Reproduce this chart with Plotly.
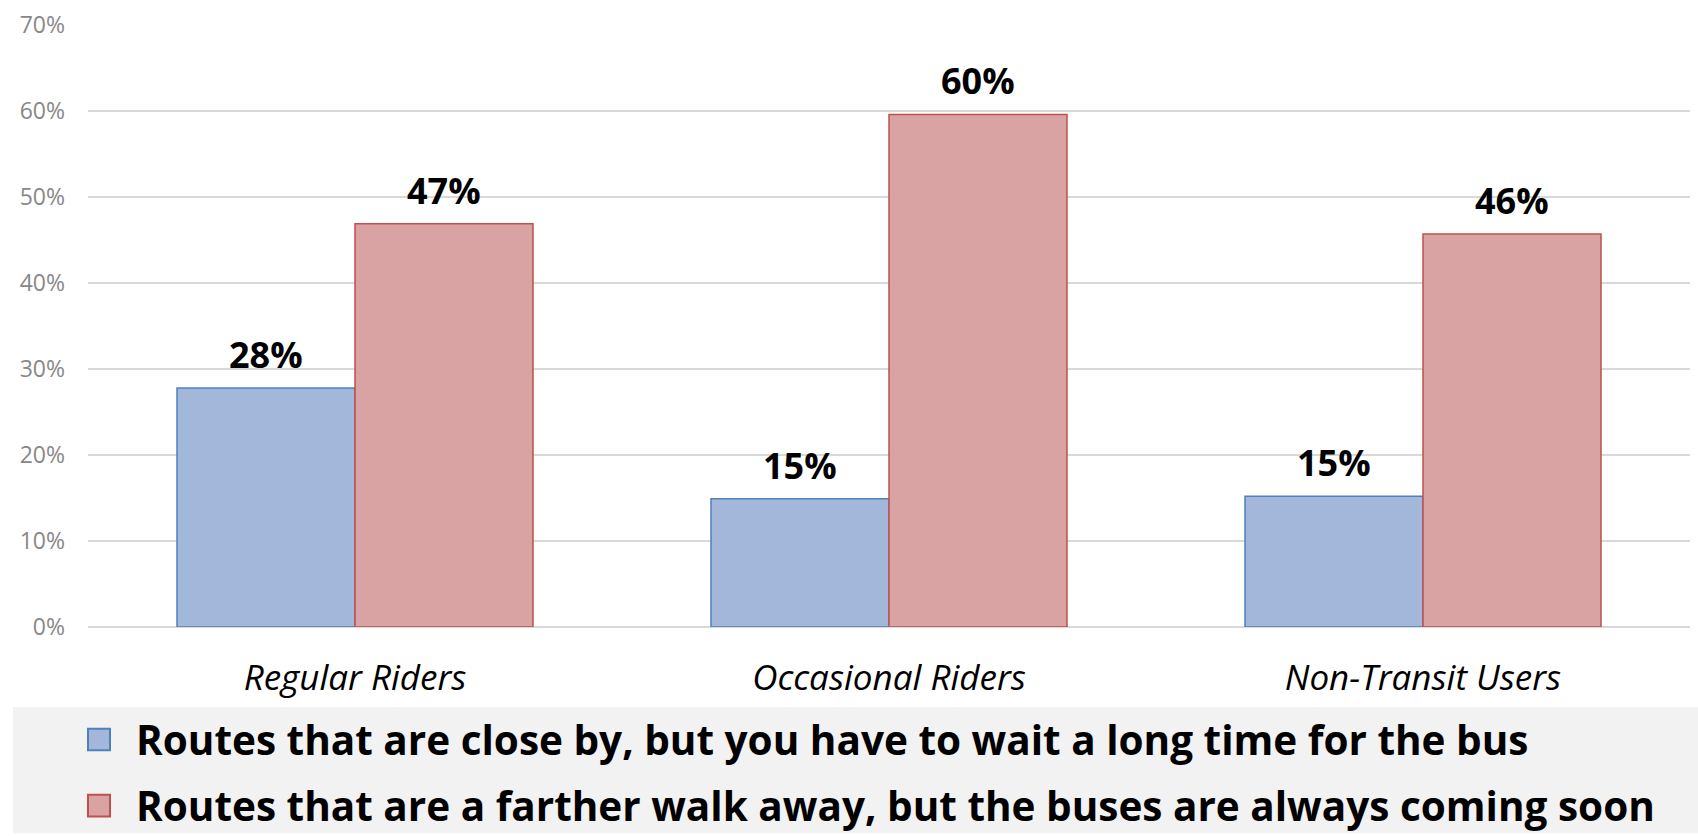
import plotly.graph_objects as go

categories = ["Regular Riders", "Occasional Riders", "Non-Transit Users"]
series_names = [
    "Routes that are close by, but you have to wait a long time for the bus",
    "Routes that are a farther walk away, but the buses are always coming soon",
]
close_wait = [0.278, 0.149, 0.152]
far_soon = [0.469, 0.596, 0.457]
y_ticks = [0, 0.1, 0.2, 0.3, 0.4, 0.5, 0.6, 0.7]
y_tick_labels = ["0%", "10%", "20%", "30%", "40%", "50%", "60%", "70%"]

fills = ["#a3b7db", "#daa3a3"]
borders = ["#4f81bd", "#c0504d"]

W, H = 1698, 836
ML, MR, MT, MB = 88, 8, 17, 209
BARGAP = 1 / 3
plot_w = W - ML - MR
plot_h = H - MT - MB
bar_px = plot_w / len(categories) * (1 - BARGAP) / 2

fig = go.Figure()
all_values = [close_wait, far_soon]
for j, vals in enumerate(all_values):
    fig.add_trace(go.Bar(
        x=categories, y=vals, name=series_names[j],
        marker=dict(color=fills[j], line=dict(color=borders[j], width=1.5)),
        showlegend=False,
    ))
    for i, v in enumerate(vals):
        fig.add_annotation(
            x=categories[i], y=v, text=f"{round(v*100)}%",
            showarrow=False, xanchor="center", yanchor="bottom",
            xshift=(j - 0.5) * bar_px, yshift=7,
            font=dict(family="Open Sans", size=36, color="#000000", weight="bold"),
        )

def px2x(px):
    return (px - ML) / plot_w

def py2y(py):
    return (H - MB - py) / plot_h

# legend panel
fig.add_shape(type="rect", xref="paper", yref="paper",
              x0=px2x(13), x1=px2x(W), y0=py2y(H), y1=py2y(708),
              fillcolor="#f2f2f2", line=dict(width=0), layer="below")
row_centers = [741, 808]
for j in range(2):
    cy = row_centers[j]
    fig.add_shape(type="rect", xref="paper", yref="paper",
                  x0=px2x(88), x1=px2x(110), y0=py2y(cy + 11), y1=py2y(cy - 11),
                  fillcolor=fills[j], line=dict(color=borders[j], width=2))
    fig.add_annotation(xref="paper", yref="paper", x=px2x(134), y=py2y(cy),
                       text=series_names[j], showarrow=False,
                       xanchor="left", yanchor="middle",
                       font=dict(family="Open Sans", size=40.5, color="#000000", weight="bold"))

fig.update_layout(
    width=W, height=H,
    margin=dict(l=ML, r=MR, t=MT, b=MB),
    paper_bgcolor="white", plot_bgcolor="white",
    barmode="group", bargap=BARGAP, bargroupgap=0,
    showlegend=False,
)
fig.update_xaxes(
    showgrid=False, showline=False, zeroline=False, ticks="",
    tickfont=dict(family="Open Sans", size=35, color="#000000", style="italic"),
    ticklabelstandoff=27,
)
fig.update_yaxes(
    range=[0, 0.7], tickvals=y_ticks, ticktext=y_tick_labels,
    showgrid=True, gridcolor="#d9d9d9", gridwidth=2,
    zeroline=True, zerolinecolor="#d9d9d9", zerolinewidth=2,
    showline=False, ticks="",
    tickfont=dict(family="Open Sans", size=23, color="#888888"),
    ticklabelstandoff=22,
)

fig.write_html("out.html")
